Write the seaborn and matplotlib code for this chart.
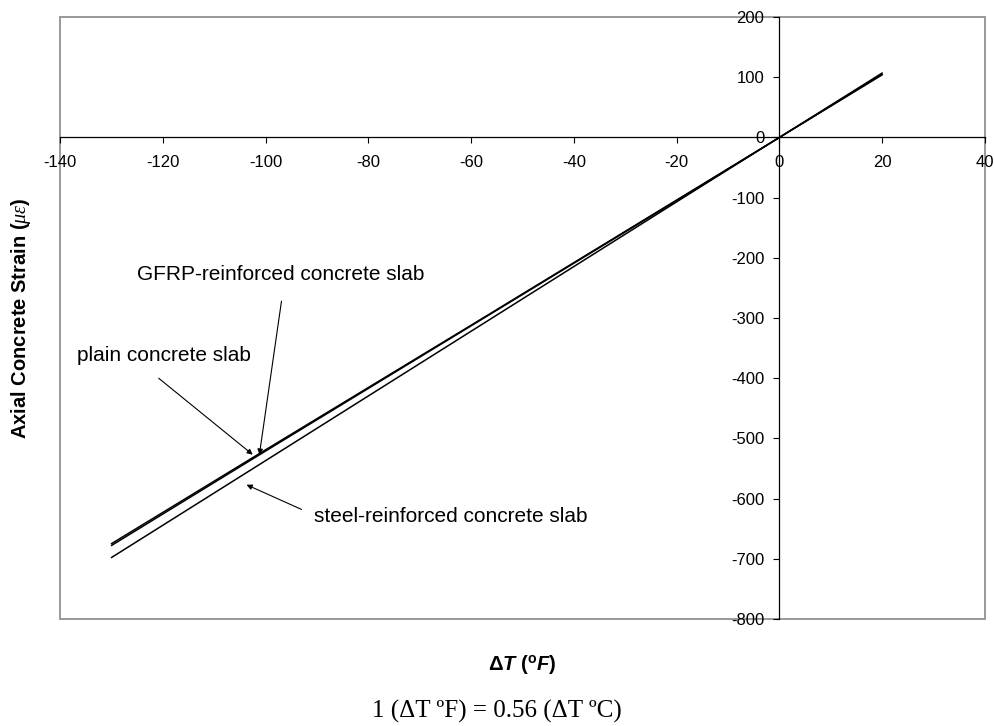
import numpy as np
import pandas as pd
import matplotlib
matplotlib.use("Agg")
import matplotlib.pyplot as plt
import seaborn as sns
from matplotlib.patches import Rectangle

# temperature change (deg F)
delta_t = [-130, -100, -60, -20, 0, 20]
# axial concrete strain (microstrain)
plain_strain = [-675, -519, -312, -104, 0, 104]
gfrp_strain = [-678, -521, -313, -105, 0, 105]
steel_strain = [-698, -537, -322, -107, 0, 107]

x_ticks = list(range(-140, 41, 20))
y_ticks = list(range(-800, 201, 100))

df = pd.DataFrame({
    "dT": delta_t * 3,
    "strain": plain_strain + gfrp_strain + steel_strain,
    "slab": ["plain"] * len(delta_t) + ["GFRP"] * len(delta_t) + ["steel"] * len(delta_t),
})

sns.set_style("white")
plt.rcParams["font.family"] = ["Liberation Sans", "DejaVu Sans"]
plt.rcParams["text.color"] = "black"
plt.rcParams["axes.labelcolor"] = "black"
plt.rcParams["axes.unicode_minus"] = False
plt.rcParams["mathtext.fontset"] = "custom"
plt.rcParams["mathtext.rm"] = "Liberation Sans"
plt.rcParams["mathtext.it"] = "Liberation Serif:italic"
plt.rcParams["mathtext.bf"] = "Liberation Sans:bold"
plt.rcParams["mathtext.bfit"] = "Liberation Sans:italic:bold"

fig = plt.figure(figsize=(9.94, 7.26), dpi=100)
ax = fig.add_axes([60 / 994, 1 - 619 / 726, 925 / 994, 602 / 726])

sns.lineplot(data=df, x="dT", y="strain", hue="slab", units="slab", estimator=None,
             palette={"plain": "black", "GFRP": "black", "steel": "black"},
             linewidth=1.1, legend=False, ax=ax)

ax.set_xlim(-140, 40)
ax.set_ylim(-800, 200)
ax.set_xticks(x_ticks)
ax.set_yticks(y_ticks)
ax.tick_params(axis="both", labelsize=12, colors="black", length=4, width=0.8,
               direction="out", bottom=True, left=True)
ax.tick_params(axis="x", pad=9)
ax.tick_params(axis="y", pad=7)

# axes crossing at origin
for side in ["left", "bottom"]:
    ax.spines[side].set_position(("data", 0))
    ax.spines[side].set_color("black")
    ax.spines[side].set_linewidth(0.9)
for side in ["top", "right"]:
    ax.spines[side].set_visible(False)

# gray plot frame
ax.add_patch(Rectangle((0, 0), 1, 1, transform=ax.transAxes, fill=False,
                       edgecolor="#999999", linewidth=1.4, clip_on=False, zorder=0))

ax.set_xlabel(r"$\mathbf{\Delta}\mathbfit{T}$ $\mathbf{(}^{\mathbf{o}}\mathbfit{F}\mathbf{)}$",
              fontsize=14.5)
ax.xaxis.set_label_coords(0.5, -0.056)
ax.set_ylabel(r"Axial Concrete Strain ($\mathit{\mu\varepsilon}$)", fontsize=14.5, fontweight="bold")
ax.yaxis.set_label_coords(-0.029, 0.5)

txt = dict(fontsize=15, va="center", color="black")
ax.text(-97.1, -227, "GFRP-reinforced concrete slab", ha="center", **txt)
ax.text(-136.7, -363, "plain concrete slab", ha="left", **txt)
ax.text(-90.5, -630, "steel-reinforced concrete slab", ha="left", **txt)

arrow = dict(arrowstyle="-|>", color="black", lw=0.8, mutation_scale=8,
             shrinkA=0, shrinkB=0)
ax.annotate("", xy=(-101.2, -527), xytext=(-96.9, -272), arrowprops=arrow)
ax.annotate("", xy=(-102.5, -527), xytext=(-120.8, -400), arrowprops=arrow)
ax.annotate("", xy=(-103.7, -577), xytext=(-93, -618), arrowprops=arrow)

fig.text(0.5, 1 - 711 / 726, "1 (\u0394T \u00baF) = 0.56 (\u0394T \u00baC)",
         ha="center", va="center", fontsize=18, family="Liberation Serif")

fig.savefig("out.png", dpi=100)
